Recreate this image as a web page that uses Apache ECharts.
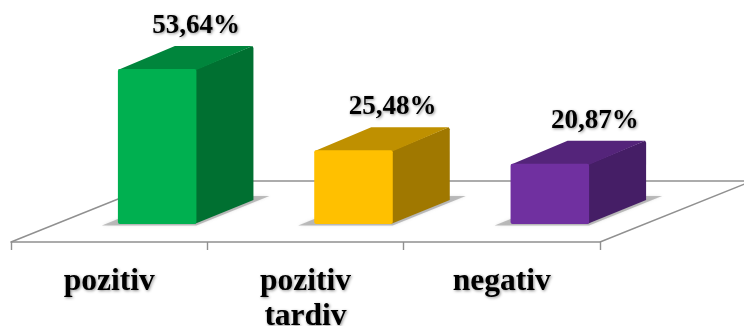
<!DOCTYPE html>
<html>
<head>
<meta charset="utf-8">
<style>html,body{margin:0;padding:0;background:#fff;overflow:hidden}#c{width:744px;height:326px}</style>
<script src="https://cdn.jsdelivr.net/npm/echarts@6/dist/echarts.min.js"></script>
</head>
<body>
<div id="c"></div>
<script>
// Share of results per category, in percent
const categories = ['pozitiv', 'pozitiv\ntardiv', 'negativ'];
const values = [53.64, 25.48, 20.87];
const valueLabels = ['53,64%', '25,48%', '20,87%'];
const frontColors = ['#00b050', '#ffc000', '#7030a0'];
const topColors = ['#00853c', '#bf9000', '#54247a'];
const sideColors = ['#007031', '#a07800', '#451e66'];
const labelShift = [39, 39, 45];

const FONT = '"Liberation Serif", "Times New Roman", serif';
const LINE = '#909090';
// Oblique projection of the floor and of each block
const FLOOR_DX = 152, FLOOR_DY = 61;
const BLOCK_DX = 57, BLOCK_DY = 23, BLOCK_SHIFT = 48;

const chart = echarts.init(document.getElementById('c'), null, {renderer: 'canvas'});

function renderFloor(params, api) {
  const r = params.coordSys;
  const b = r.y + r.height;
  const lineStyle = {stroke: LINE, lineWidth: 1.4, fill: null};
  const seg = (x1, y1, x2, y2) => ({type: 'line', shape: {x1, y1, x2, y2}, style: lineStyle});
  return {type: 'group', children: [
    seg(r.x, b, r.x + FLOOR_DX, b - FLOOR_DY),
    seg(r.x + FLOOR_DX, b - FLOOR_DY, r.x + r.width + FLOOR_DX, b - FLOOR_DY),
    seg(r.x + r.width, b, r.x + r.width + FLOOR_DX, b - FLOOR_DY)
  ]};
}

function renderBlock(params, api) {
  const i = api.value(0);
  const base = api.coord([i, 0]);
  const top = api.coord([i, api.value(1)]);
  const w = api.size([1, 0])[0] * 0.4;
  const x0 = base[0] + BLOCK_SHIFT - w / 2;
  const x1 = x0 + w;
  const yB = base[1], yT = top[1];
  const dx = BLOCK_DX, dy = BLOCK_DY;
  return {type: 'group', children: [
    // soft cast shadow on the floor, fading towards its outer tips
    {type: 'polygon', shape: {points: [
      [x0 - 16, yB + 1.5], [x1, yB + 1.5], [x1 + dx + 16, yB - dy - 5], [x1 + dx, yB - dy - 5], [x0, yB - 5]
    ]}, style: {fill: 'rgba(150,150,150,0.6)', shadowBlur: 3, shadowColor: 'rgba(150,150,150,0.4)'}},
    {type: 'polygon', shape: {points: [
      [x1 - 2, yT + 1], [x1 + dx - 1, yT - dy], [x1 + dx, yT - dy + 2], [x1 + dx, yB - dy - 1], [x1 - 2, yB]
    ]}, style: {fill: sideColors[i]}},
    {type: 'polygon', shape: {points: [
      [x0, yT + 1], [x0 + dx, yT - dy], [x1 + dx - 1, yT - dy], [x1, yT + 1]
    ]}, style: {fill: topColors[i]}},
    {type: 'rect', shape: {x: x0, y: yT, width: w, height: yB - yT, r: 2}, style: {fill: frontColors[i]}},
    {type: 'text', x: x0 + w / 2 + labelShift[i], y: yT - dy - 20, style: {
      text: valueLabels[i], font: 'bold 27px ' + FONT, fill: '#000', align: 'center', verticalAlign: 'middle',
      textShadowColor: 'rgba(0,0,0,0.45)', textShadowBlur: 3, textShadowOffsetX: 1, textShadowOffsetY: 1
    }}
  ]};
}

chart.setOption({
  animation: false,
  backgroundColor: '#fff',
  grid: {left: 11, width: 589, top: 10, bottom: 84, containLabel: false, outerBoundsMode: 'none'},
  xAxis: {
    type: 'category', data: categories, boundaryGap: true,
    axisLine: {onZero: false, lineStyle: {color: LINE, width: 1.6}},
    axisTick: {show: true, alignWithLabel: false, length: 8, lineStyle: {color: LINE, width: 1.4}},
    axisLabel: {
      interval: 0, margin: 22, color: '#000', fontFamily: FONT, fontWeight: 'bold', fontSize: 31.5,
      lineHeight: 35, verticalAlign: 'top',
      textShadowColor: 'rgba(0,0,0,0.45)', textShadowBlur: 3, textShadowOffsetX: 1, textShadowOffsetY: 1
    }
  },
  yAxis: {type: 'value', min: -6.23, max: 74.05, show: false, splitLine: {show: false}},
  series: [
    {type: 'custom', clip: false, silent: true, z: 1, data: [[0, 0]], renderItem: renderFloor},
    {type: 'custom', clip: false, silent: true, z: 2,
      data: values.map((v, i) => [i, v]), encode: {x: 0, y: 1}, renderItem: renderBlock}
  ]
});
</script>
</body>
</html>
